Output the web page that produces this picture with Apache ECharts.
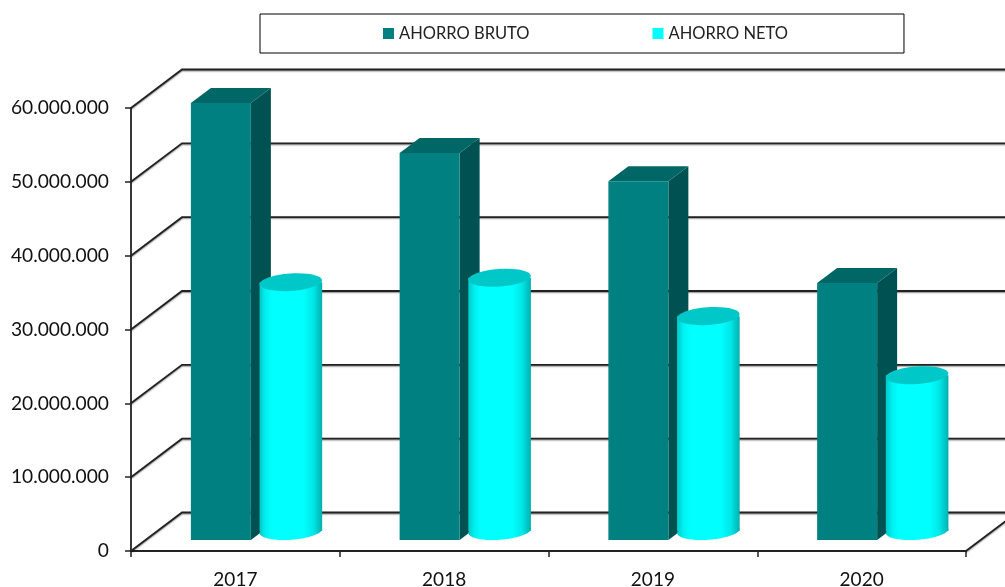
<!DOCTYPE html>
<html>
<head>
<meta charset="utf-8">
<style>
  html, body { margin: 0; padding: 0; background: #fff; }
  #chart { width: 1005px; height: 587px; }
</style>
<script src="https://cdn.jsdelivr.net/npm/echarts@6/dist/echarts.min.js"></script>
</head>
<body>
<div id="chart"></div>
<script>
var years = ['2017', '2018', '2019', '2020'];
var ahorroBruto = [59200000, 52400000, 48600000, 34800000];
var ahorroNeto = [33700000, 34300000, 29100000, 21100000];
var gridTicks = [0, 10000000, 20000000, 30000000, 40000000, 50000000, 60000000];

var fontName = 'Lato, "Open Sans", sans-serif';

function fmt(v) {
  return String(v).replace(/\B(?=(\d{3})+$)/g, '.');
}

function withCat(list) {
  return list.map(function (v, i) { return [i, v]; });
}

// back wall and floor, the 3d part of the grid
function renderWall(params, api) {
  var v = api.value(1);
  var band = api.size([1, 0])[0];
  var p0 = api.coord([0, v]);
  var left = p0[0] - band / 2;
  var right = api.coord([years.length - 1, v])[0] + band / 2;
  var y = p0[1];
  var pts = [[left, y], [left + 51, y - 38.5], [right + 51, y - 38.5]];
  if (v === 0) pts.push([right, y]);
  return {
    type: 'polyline',
    shape: { points: pts },
    style: {
      fill: null,
      stroke: '#222',
      lineWidth: 1.8,
      shadowColor: 'rgba(0,0,0,0.45)',
      shadowBlur: 1.5,
      shadowOffsetY: 1
    }
  };
}

function renderBox(params, api) {
  var top = api.coord([api.value(0), api.value(1)]);
  var base = api.coord([api.value(0), 0]);
  var l = top[0] - 44.5, w = 60, dx = 20, dy = 15;
  var t = top[1] - 11, b = base[1] - 11;
  var r = l + w;
  return {
    type: 'group',
    children: [
      {
        type: 'polygon',
        shape: { points: [[r, t], [r + dx, t - dy], [r + dx, b - dy], [r, b]] },
        style: { fill: '#005252' }
      },
      {
        type: 'polygon',
        shape: { points: [[l, t], [l + dx, t - dy], [r + dx, t - dy], [r, t]] },
        style: { fill: '#006666' }
      },
      {
        type: 'rect',
        shape: { x: l, y: t, width: w, height: b - t },
        style: { fill: '#008080' }
      }
    ]
  };
}

function renderCyl(params, api) {
  var top = api.coord([api.value(0), api.value(1)]);
  var base = api.coord([api.value(0), 0]);
  var cx = top[0] + 55.5, rx = 31.3, ry = 8.8;
  var t = top[1] - 20, b = base[1] - 20;
  var tilt = 0.07;
  var sideFill = new echarts.graphic.LinearGradient(0, 0, 1, 0, [
    { offset: 0, color: '#00c8c8' },
    { offset: 0.1, color: '#00f0f0' },
    { offset: 0.2, color: '#00ffff' },
    { offset: 0.7, color: '#00ffff' },
    { offset: 0.86, color: '#00e6e6' },
    { offset: 1, color: '#00b0b0' }
  ]);
  return {
    type: 'group',
    children: [
      {
        type: 'ellipse',
        shape: { cx: cx, cy: b, rx: rx, ry: ry },
        rotation: tilt,
        originX: cx,
        originY: b,
        style: { fill: sideFill }
      },
      {
        type: 'rect',
        shape: { x: cx - rx, y: t, width: rx * 2, height: b - t },
        style: { fill: sideFill }
      },
      {
        type: 'ellipse',
        shape: { cx: cx, cy: t, rx: rx, ry: ry },
        rotation: tilt,
        originX: cx,
        originY: t,
        style: { fill: '#00c8c8' }
      }
    ]
  };
}

var myChart = echarts.init(document.getElementById('chart'));
var option = {
  animation: false,
  textStyle: { fontFamily: fontName },
  legend: {
    data: ['AHORRO BRUTO', 'AHORRO NETO'],
    left: 260,
    top: 14,
    padding: [11, 116, 11, 123],
    itemGap: 123,
    itemWidth: 11,
    itemHeight: 11,
    icon: 'rect',
    borderColor: '#000',
    borderWidth: 1,
    textStyle: { fontSize: 16.5, color: '#222', fontFamily: fontName }
  },
  grid: { left: 131, top: 108, width: 835, height: 443, outerBoundsMode: 'none' },
  xAxis: {
    type: 'category',
    data: years,
    axisLine: { show: true, lineStyle: { color: '#222', width: 2.2 } },
    axisTick: { show: true, length: 6, lineStyle: { color: '#222', width: 1.5 } },
    axisLabel: { color: '#111', fontSize: 19, margin: 19 },
    splitLine: { show: false }
  },
  yAxis: {
    type: 'value',
    min: 0,
    max: 60000000,
    interval: 10000000,
    axisLine: { show: true, lineStyle: { color: '#222', width: 1.8 } },
    axisTick: { show: true, length: 6, lineStyle: { color: '#222', width: 1.5 } },
    axisLabel: { color: '#111', fontSize: 19.2, margin: 22, padding: [6, 0, 0, 0], formatter: fmt },
    splitLine: { show: false }
  },
  series: [
    {
      type: 'custom',
      name: 'wall',
      z: 1,
      silent: true,
      clip: false,
      renderItem: renderWall,
      encode: { x: 0, y: 1 },
      data: gridTicks.map(function (v) { return [0, v]; })
    },
    {
      type: 'custom',
      name: 'AHORRO BRUTO',
      z: 2,
      clip: false,
      renderItem: renderBox,
      itemStyle: { color: '#008080' },
      encode: { x: 0, y: 1 },
      data: withCat(ahorroBruto)
    },
    {
      type: 'custom',
      name: 'AHORRO NETO',
      z: 3,
      clip: false,
      renderItem: renderCyl,
      itemStyle: { color: '#00ffff' },
      encode: { x: 0, y: 1 },
      data: withCat(ahorroNeto)
    }
  ]
};
myChart.setOption(option);
window.addEventListener('resize', function () { myChart.resize(); });
</script>
</body>
</html>
